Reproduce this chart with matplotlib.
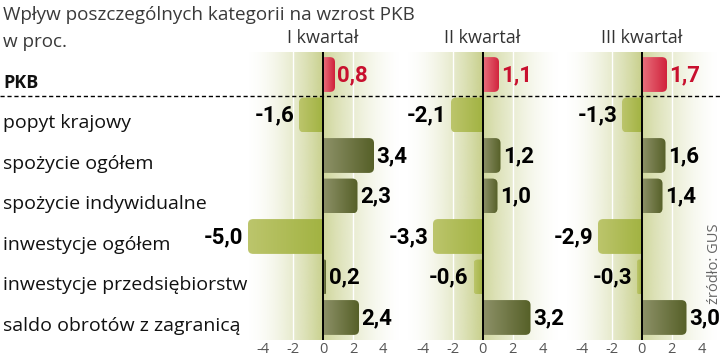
import numpy as np
import matplotlib.pyplot as plt
from matplotlib.patches import FancyBboxPatch
from matplotlib.lines import Line2D
from matplotlib.colors import to_rgb
import matplotlib.transforms as mtransforms

# dane (GUS), wkład do wzrostu PKB w p.p.
categories = ["PKB", "popyt krajowy", "spożycie ogółem", "spożycie indywidualne",
              "inwestycje ogółem", "inwestycje przedsiębiorstw",
              "saldo obrotów z zagranicą"]
quarters = ["I kwartał", "II kwartał", "III kwartał"]
q1 = [0.8, -1.6, 3.4, 2.3, -5.0, 0.2, 2.4]
q2 = [1.1, -2.1, 1.2, 1.0, -3.3, -0.6, 3.2]
q3 = [1.7, -1.3, 1.6, 1.4, -2.9, -0.3, 3.0]
ticks = [-4, -2, 0, 2, 4]
title = "Wpływ poszczególnych kategorii na wzrost PKB"
unit = "w proc."
source = "źródło: GUS"

txt_font = ["Open Sans", "DejaVu Sans"]
num_font = ["Roboto", "DejaVu Sans"]

W, H = 720, 358
fig = plt.figure(figsize=(W / 100, H / 100), dpi=100)

xmin, xmax = -5.3, 5.2
ppu = 15.0                    # px na jednostkę
zeros = [323, 482.5, 641.5]   # położenie zera w każdym panelu (px)
top_px, bot_px = 52, 340
n = len(categories)
ylim = (n - 1 + 0.556, -0.556)
bar_h = 0.86

def grad_rgba(c0, c1, n=64):
    a = np.array(to_rgb(c0)); b = np.array(to_rgb(c1))
    t = np.linspace(0, 1, n)[:, None]
    return (a + (b - a) * t)[None, :, :]

# tło - poziomy gradient
xs = np.linspace(xmin, xmax, 300)
alpha = np.where(xs < 0, np.clip(1 + xs / 5.2, 0, 1) ** 1.7,
                 np.clip(1 - xs / 5.2, 0, 1) ** 1.6 * 0.85)
bg = np.zeros((1, len(xs), 4))
bg[..., :3] = to_rgb("#c8d08c")
bg[..., 3] = alpha

axes = []
for k, (vals, z) in enumerate(zip([q1, q2, q3], zeros)):
    left = z + xmin * ppu
    width = (xmax - xmin) * ppu
    ax = fig.add_axes([left / W, (H - bot_px) / H, width / W, (bot_px - top_px) / H])
    ax.set_xlim(xmin, xmax)
    ax.set_ylim(*ylim)
    ax.set_autoscale_on(False)
    ax.imshow(bg, extent=(xmin, xmax, ylim[0], ylim[1]), aspect="auto", zorder=0)
    for t in (-2, 2):
        ax.axvline(t, color="white", lw=1, zorder=1)
    for i, v in enumerate(vals):
        w = abs(v)
        r = min(0.35, w / 2)
        x0 = v if v < 0 else -r
        patch = FancyBboxPatch((x0, i - bar_h / 2), w + r, bar_h,
                               boxstyle=f"round,pad=0,rounding_size={r}",
                               mutation_aspect=0.35, fc="none", ec="none")
        ax.add_patch(patch)
        if i == 0:
            c_in, c_out = "#e8707c", "#d0203a"
        elif v < 0:
            c_in, c_out = "#a2b342", "#bcc56c"
        else:
            c_in, c_out = "#8d9168", "#566028"
        im = ax.imshow(grad_rgba(c_in, c_out), extent=(0, v, i + bar_h / 2, i - bar_h / 2),
                       aspect="auto", zorder=2, interpolation="bilinear")
        im.set_clip_path(patch)
    ax.axvline(0, color="black", lw=1.4, zorder=3)
    ax.set_xticks(ticks)
    ax.set_xticklabels([str(t) for t in ticks], family=txt_font, fontsize=10.5,
                       color="#555555")
    ax.tick_params(axis="x", length=0, pad=1.5)
    ax.set_yticks([])
    for s in ax.spines.values():
        s.set_visible(False)
    axes.append(ax)

# napisy jako artyści figury, żeby nie zasłaniało ich tło sąsiedniego panelu
for k, (vals, ax) in enumerate(zip([q1, q2, q3], axes)):
    hdr = mtransforms.offset_copy(
        mtransforms.blended_transform_factory(ax.transData, ax.transAxes),
        fig=fig, x=0, y=10, units="points")
    fig.text(0, 1, quarters[k], transform=hdr, ha="center", va="center",
             fontsize=13, family=txt_font, color="#333333")
    for i, v in enumerate(vals):
        lab = ("-" if v < 0 else "") + f"{abs(v):.1f}".replace(".", ",")
        tr = mtransforms.offset_copy(ax.transData, fig=fig,
                                     x=1.8 if v >= 0 else -3.5, y=-0.5, units="points")
        fig.text(v, i, lab, transform=tr, ha="left" if v >= 0 else "right",
                 va="center", fontsize=16, fontweight="bold", family=num_font,
                 color="#c8102e" if i == 0 else "black")

ax1 = axes[0]
cat_tr = mtransforms.offset_copy(
    mtransforms.blended_transform_factory(fig.transFigure, ax1.transData),
    fig=fig, x=0, y=-9.4, units="points")
for i, cat in enumerate(categories):
    fig.text(3 / W, i, cat, transform=cat_tr, ha="left", va="baseline",
             fontsize=14 if i else 13, fontweight="bold" if i == 0 else "normal",
             family=txt_font, color="#111111")

# przerywana linia pod PKB
tr = mtransforms.blended_transform_factory(fig.transFigure, ax1.transData)
fig.add_artist(Line2D([0, 1], [0.53, 0.53], transform=tr, color="black",
                      lw=1, ls=(0, (3, 2))))

fig.text(3 / W, 1 - 15 / H, title, ha="left", va="center", fontsize=13.6,
         family=txt_font, color="#3a3a3a")
fig.text(3 / W, 1 - 42 / H, unit, ha="left", va="center", fontsize=13.6,
         family=txt_font, color="#3a3a3a")
fig.text(714 / W, 1 - 264 / H, source, ha="center", va="center", rotation=90,
         fontsize=10.5, family=txt_font, color="#666666")

fig.savefig("out.png", dpi=100)
